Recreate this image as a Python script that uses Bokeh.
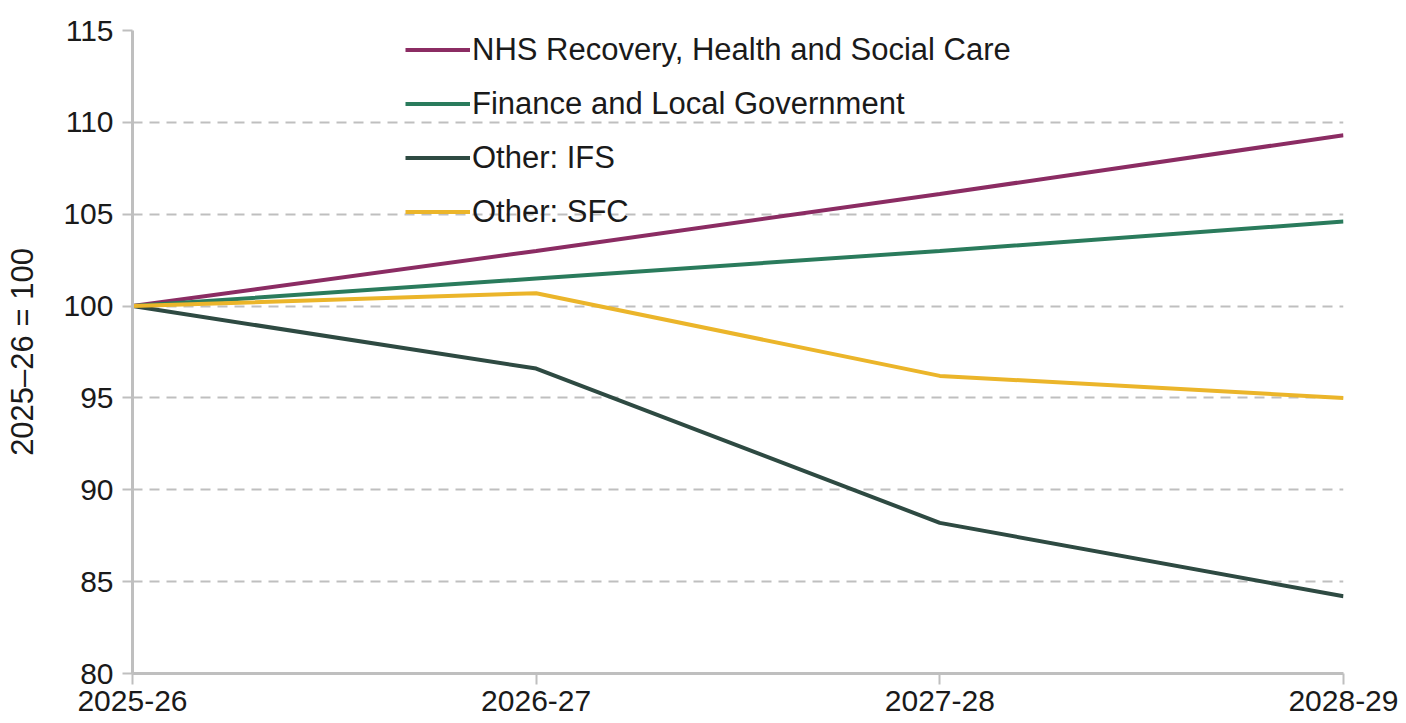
from bokeh.plotting import figure
from bokeh.embed import file_html
from bokeh.resources import INLINE
from bokeh.models import FixedTicker, Legend, LegendItem

years = ["2025-26", "2026-27", "2027-28", "2028-29"]
nhs = [100.0, 103.0, 106.1, 109.3]
finance = [100.0, 101.5, 103.0, 104.6]
other_ifs = [100.0, 96.6, 88.2, 84.2]
other_sfc = [100.0, 100.7, 96.2, 95.0]

series = [
    ("NHS Recovery, Health and Social Care", nhs, "#8B2C63"),
    ("Finance and Local Government", finance, "#2A7B5C"),
    ("Other: IFS", other_ifs, "#2E4A42"),
    ("Other: SFC", other_sfc, "#EBB52A"),
]

xs = list(range(len(years)))
FONT = "Liberation Sans"
GRAY = "#BFBFBF"

p = figure(width=1398, height=715, output_backend="svg", toolbar_location=None,
           x_range=(0, 3), y_range=(80, 115),
           min_border_left=132, min_border_right=55, min_border_top=30, min_border_bottom=42)
p.outline_line_color = None
p.background_fill_color = "white"

items = []
for name, vals, col in series:
    r = p.line(xs, vals, line_color=col, line_width=4)
    items.append(LegendItem(label=name, renderers=[r]))

legend = Legend(items=items, location=(273, 443), orientation="vertical",
                background_fill_alpha=0, border_line_color=None,
                glyph_width=65, glyph_height=37, label_height=37, spacing=17,
                label_standoff=2, padding=0, margin=0,
                label_text_font=FONT, label_text_font_size="31px", label_text_color="#1a1a1a")
p.add_layout(legend, "center")

# axes
p.xaxis.ticker = FixedTicker(ticks=xs)
p.xaxis.major_label_overrides = {i: y for i, y in enumerate(years)}
p.yaxis.ticker = FixedTicker(ticks=[80, 85, 90, 95, 100, 105, 110, 115])
for ax in (p.xaxis[0], p.yaxis[0]):
    ax.axis_line_color = GRAY
    ax.axis_line_width = 3
    ax.major_tick_line_color = GRAY
    ax.major_tick_line_width = 2
    ax.major_tick_in = 0
    ax.major_tick_out = 10
    ax.minor_tick_line_color = None
    ax.major_label_text_font = FONT
    ax.major_label_text_font_size = "30px"
    ax.major_label_text_color = "#1a1a1a"
p.xaxis.major_tick_out = 11
p.xaxis.major_label_standoff = 6
p.yaxis.major_label_standoff = 9
p.yaxis.axis_label = "2025\u201326 = 100"
p.yaxis.axis_label_text_font = FONT
p.yaxis.axis_label_text_font_size = "31px"
p.yaxis.axis_label_text_font_style = "normal"
p.yaxis.axis_label_text_color = "#1a1a1a"
p.yaxis.axis_label_standoff = 20

p.xgrid.grid_line_color = None
p.ygrid.grid_line_color = GRAY
p.ygrid.grid_line_width = 2
p.ygrid.grid_line_dash = "10 7"

open("out.html", "w").write(file_html(p, INLINE))
